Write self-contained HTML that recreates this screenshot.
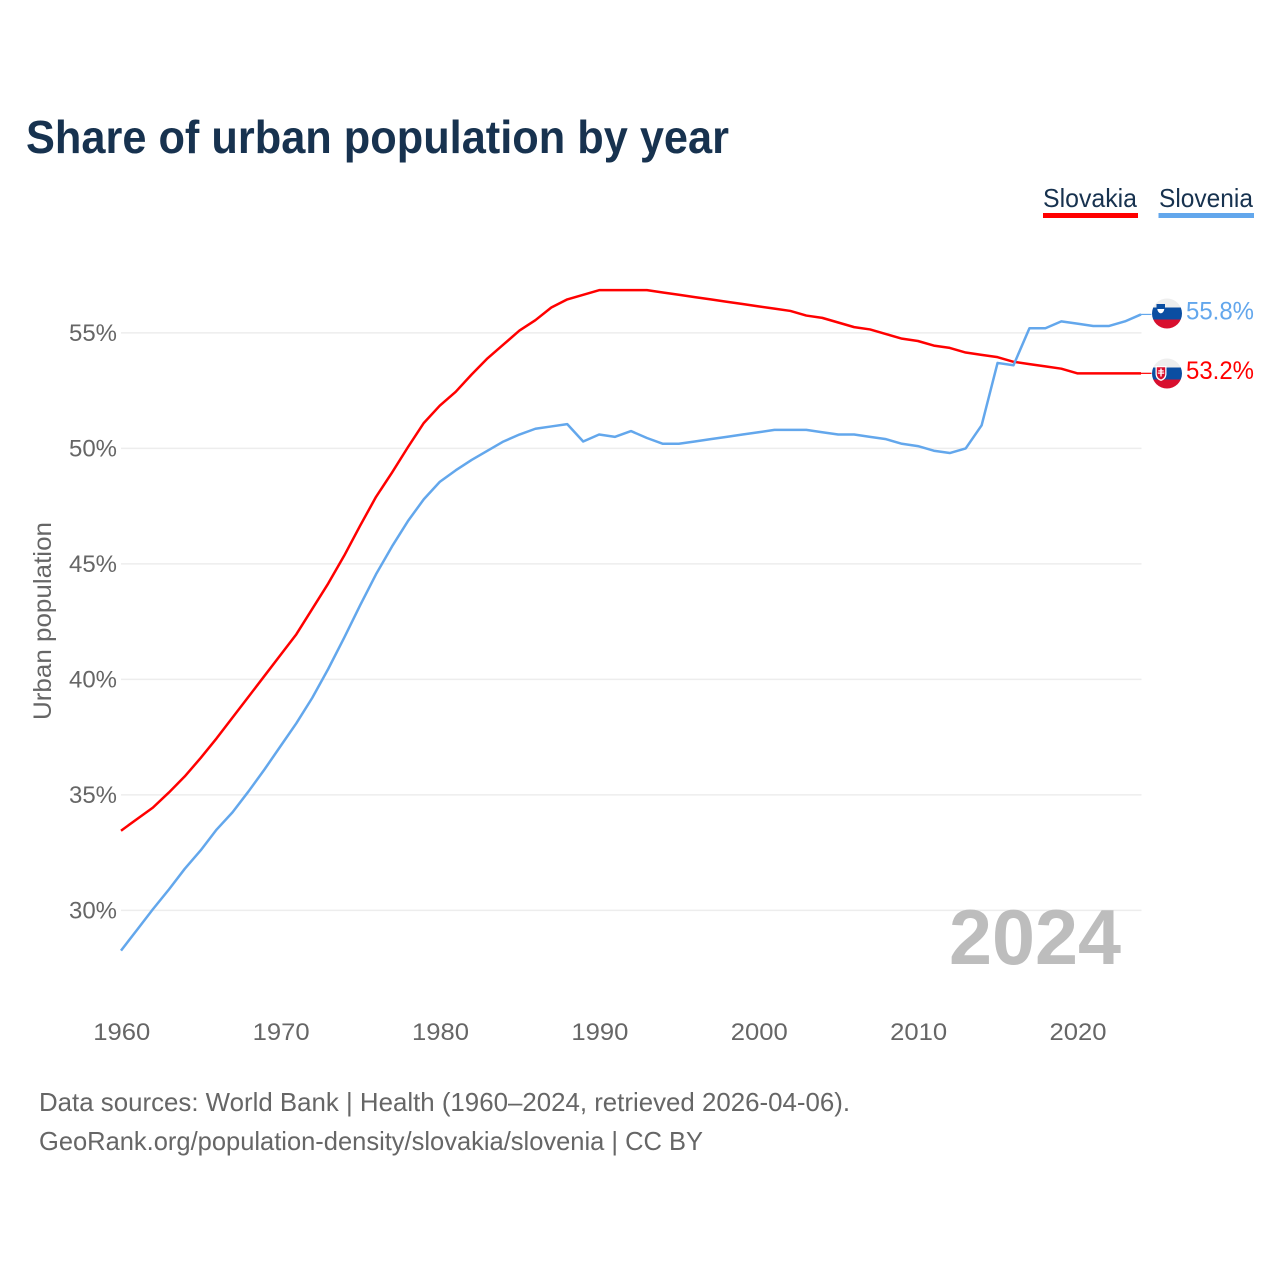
<!DOCTYPE html>
<html lang="en">
<head>
<meta charset="utf-8">
<title>Share of urban population by year</title>
<style>
html,body{margin:0;padding:0;background:#fff;}
svg{display:block;font-family:"Liberation Sans",Arial,sans-serif;}
</style>
</head>
<body>
<svg id="chart" xmlns="http://www.w3.org/2000/svg" width="1280" height="1280" viewBox="0 0 1280 1280">
  <text x="26" y="153" font-size="46" font-weight="700" fill="#17324f" textLength="703" lengthAdjust="spacingAndGlyphs">Share of urban population by year</text>

  <g>
    <text x="1043" y="207" font-size="26" fill="#17324f" textLength="94" lengthAdjust="spacingAndGlyphs">Slovakia</text>
    <rect x="1043" y="213" width="95" height="5" fill="#ff0000"/>
  </g>
  <g>
    <text x="1159" y="207" font-size="26" fill="#17324f" textLength="94" lengthAdjust="spacingAndGlyphs">Slovenia</text>
    <rect x="1158.5" y="213" width="95.5" height="5" fill="#63a7ec"/>
  </g>

  <g id="grid"></g>
  <g id="yticks"></g>
  <g id="xticks"></g>

  <text transform="translate(51,720) rotate(-90)" x="0" y="0" font-size="25" fill="#666666" textLength="198" lengthAdjust="spacingAndGlyphs">Urban population</text>

  <text x="949" y="964" font-size="78" font-weight="700" fill="#bdbdbd" textLength="172" lengthAdjust="spacingAndGlyphs">2024</text>

  <g id="series"></g>

  <defs>
    <clipPath id="clip-si"><circle cx="1167" cy="313.5" r="15"/></clipPath>
    <clipPath id="clip-sk"><circle cx="1167" cy="373.5" r="15"/></clipPath>
  </defs>
  <g clip-path="url(#clip-si)">
    <rect x="1150" y="297" width="34" height="11" fill="#eeeeee"/>
    <rect x="1150" y="307.5" width="34" height="12" fill="#0b4ea2"/>
    <rect x="1150" y="319.5" width="34" height="11" fill="#d80f2e"/>
    <path d="M1156.500 304h8.500v5q-.4 4-4.200 4.800q-3.900-.8-4.300-4.800z" fill="#0b4ea2"/>
    <path d="M1157.300 309h7q-.4 3.600-3.500 4.400q-3.100-.8-3.500-4.400z" fill="#ffffff"/>
  </g>
  <g clip-path="url(#clip-sk)">
    <rect x="1150" y="357" width="34" height="11" fill="#eeeeee"/>
    <rect x="1150" y="367.500" width="34" height="12" fill="#0b4ea2"/>
    <rect x="1150" y="379.500" width="34" height="11" fill="#d80f2e"/>
    <path d="M1155.500 366h11v8.500q-.5 5-5.500 6.500q-5-1.500-5.500-6.500z" fill="#ffffff"/>
    <path d="M1156.800 367.300h8.400v7q-.4 4-4.200 5.200q-3.800-1.200-4.200-5.200z" fill="#d80f2e"/>
    <path d="M1160.300 368.500h1.400v1.800h2v1.200h-2v1h2.500v1.200h-2.500v2.800h-1.400v-2.800h-2.500v-1.200h2.500v-1h-2v-1.200h2z" fill="#ffffff"/>
  </g>

  <text id="end-si" x="1186" y="319.500" font-size="25" fill="#63a7ec" textLength="68" lengthAdjust="spacingAndGlyphs"></text>
  <text id="end-sk" x="1186" y="379" font-size="25" fill="#ff0000" textLength="68" lengthAdjust="spacingAndGlyphs"></text>

  <text x="39" y="1111" font-size="26" fill="#666666" textLength="811" lengthAdjust="spacingAndGlyphs">Data sources: World Bank | Health (1960–2024, retrieved 2026-04-06).</text>
  <a><text x="39" y="1150" font-size="26" fill="#666666" textLength="664" lengthAdjust="spacingAndGlyphs">GeoRank.org/population-density/slovakia/slovenia | CC BY</text></a>
</svg>
<script>
const startYear = 1960;
const slovakiaValues = [33.45,33.95,34.45,35.1,35.8,36.6,37.45,38.35,39.25,40.15,41.05,41.95,43.05,44.15,45.35,46.65,47.9,48.95,50.05,51.1,51.85,52.45,53.2,53.9,54.5,55.1,55.55,56.1,56.45,56.65,56.85,56.85,56.85,56.85,56.75,56.65,56.55,56.45,56.35,56.25,56.15,56.05,55.95,55.75,55.65,55.45,55.25,55.15,54.95,54.75,54.65,54.45,54.35,54.15,54.05,53.95,53.75,53.65,53.55,53.45,53.25,53.25,53.25,53.25,53.25];
const sloveniaValues = [28.26,29.15,30.05,30.9,31.8,32.6,33.5,34.25,35.15,36.1,37.1,38.1,39.2,40.45,41.8,43.2,44.55,45.75,46.85,47.8,48.55,49.05,49.5,49.9,50.3,50.6,50.85,50.95,51.05,50.3,50.6,50.5,50.75,50.45,50.2,50.2,50.3,50.4,50.5,50.6,50.7,50.8,50.8,50.8,50.7,50.6,50.6,50.5,50.4,50.2,50.1,49.9,49.8,50.0,51.0,53.7,53.6,55.2,55.2,55.5,55.4,55.3,55.3,55.5,55.8];
const yTickValues = [30,35,40,45,50,55];
const xTickYears = [1960,1970,1980,1990,2000,2010,2020];
const endLabels = ["55.8%","53.2%"];

const NS = "http://www.w3.org/2000/svg";
function xScale(year){ return 121 + (year - 1960) * (1141 - 121) / 64; }
function yScale(v){ return 910.4 - (v - 30) * 23.1; }
function make(tag, parent, attrs){
  const el = document.createElementNS(NS, tag);
  for (const k in attrs) el.setAttribute(k, attrs[k]);
  parent.appendChild(el);
  return el;
}
const grid = document.getElementById("grid");
const yticks = document.getElementById("yticks");
const xticks = document.getElementById("xticks");
const series = document.getElementById("series");

yTickValues.forEach(function(v){
  const line = make("line", grid, {x1:121, x2:1141.5, y1:yScale(v), y2:yScale(v), stroke:"#ededed", "stroke-width":1.5});
  
  
  const t = make("text", yticks, {x:117, y:yScale(v)+8, "text-anchor":"end", "font-size":24, fill:"#666666", textLength:48, lengthAdjust:"spacingAndGlyphs"});
  
  
  t.textContent = v + "%";
});

xTickYears.forEach(function(y){
  const t = make("text", xticks, {x:xScale(y)+0.8, y:1040, "text-anchor":"middle", "font-size":24, fill:"#666666", textLength:57, lengthAdjust:"spacingAndGlyphs"});
  
  
  t.textContent = y;
});

function points(values){
  return values.map(function(v,i){ return xScale(startYear+i).toFixed(2)+","+yScale(v).toFixed(2); }).join(" ");
}
function connector(values, color){
  const last = values[values.length-1];
  const c = make("line", series, {x1:1141, x2:1151.5, y1:yScale(last), y2:yScale(last), stroke:color, "stroke-width":1.2});
  
  
}
const slovakiaLine = make("polyline", series, {points:points(slovakiaValues), fill:"none", stroke:"#ff0000", "stroke-width":2.5, "stroke-linejoin":"round"});


const sloveniaLine = make("polyline", series, {points:points(sloveniaValues), fill:"none", stroke:"#63a7ec", "stroke-width":2.5, "stroke-linejoin":"round"});


connector(slovakiaValues, "#ff0000");
connector(sloveniaValues, "#63a7ec");

document.getElementById("end-si").textContent = endLabels[0];
document.getElementById("end-sk").textContent = endLabels[1];
</script>
</body>
</html>
